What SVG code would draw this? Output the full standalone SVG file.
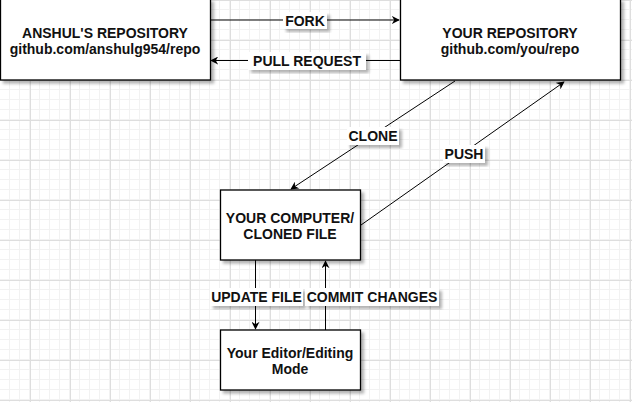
<svg xmlns="http://www.w3.org/2000/svg" width="632" height="402" viewBox="0 0 632 402">
<defs>
<pattern id="minor" width="10" height="10" patternUnits="userSpaceOnUse">
<path d="M9.5 0V10M0 9.5H10" fill="none" stroke="#f2f2f2" stroke-width="1"/>
</pattern>
<pattern id="major" x="30" y="0" width="40" height="40" patternUnits="userSpaceOnUse">
<path d="M0.5 0V40M0 0.5H40" fill="none" stroke="#dedede" stroke-width="1"/>
</pattern>
<filter id="sh" x="-10%" y="-10%" width="130%" height="130%">
<feGaussianBlur in="SourceAlpha" stdDeviation="1.5"/>
<feOffset dx="3" dy="3" result="b"/>
<feComponentTransfer><feFuncA type="linear" slope="0.3"/></feComponentTransfer>
<feMerge><feMergeNode/><feMergeNode in="SourceGraphic"/></feMerge>
</filter>
<marker id="arr" viewBox="0 0 10 10" refX="9" refY="5" markerWidth="8" markerHeight="8" markerUnits="userSpaceOnUse" orient="auto">
<path d="M0 0L10 5L0 10L3 5Z" fill="#000"/>
</marker>
<style>
.box{fill:#fff;stroke:#000;stroke-width:1.3;filter:url(#sh)}
.t{font-family:"Liberation Sans",Arial,sans-serif;font-weight:bold;font-size:14px;fill:#111;text-anchor:middle}
.c{fill:none;stroke:#000;stroke-width:1;marker-end:url(#arr)}
.lb{fill:#fff;filter:url(#sh)}
</style>
</defs>
<rect width="632" height="402" fill="#fff"/>
<rect width="632" height="402" fill="url(#minor)"/>
<rect width="632" height="402" fill="url(#major)"/>

<g id="connectors">
<path class="c" d="M210 20H399"/>
<path class="c" d="M400 60.5H211"/>
<path class="c" d="M455 81L291 189"/>
<path class="c" d="M361 225L564 82"/>
<path class="c" d="M255.5 260V329"/>
<path class="c" d="M325.5 330V261"/>
<g id="labels">
<rect class="lb" x="283" y="12" width="44" height="17"/>
<text class="t" x="305" y="26">FORK</text>
<rect class="lb" x="248" y="52" width="118" height="18"/>
<text class="t" x="307" y="66">PULL REQUEST</text>
<rect class="lb" x="347" y="127" width="52" height="18"/>
<text class="t" x="373" y="141">CLONE</text>
<rect class="lb" x="443" y="145" width="42" height="18"/>
<text class="t" x="464" y="159">PUSH</text>
<rect class="lb" x="210" y="288" width="93" height="18"/>
<text class="t" x="256.5" y="302">UPDATE FILE</text>
<rect class="lb" x="305" y="288" width="134" height="18"/>
<text class="t" x="372" y="302">COMMIT CHANGES</text>
</g>
</g>

<g id="anshul">
<rect class="box" x="0.5" y="-1" width="210" height="81"/>
<text class="t" x="105" y="38">ANSHUL'S REPOSITORY</text>
<text class="t" x="105" y="54">github.com/anshulg954/repo</text>
</g>
<g id="yours">
<rect class="box" x="400.5" y="-1" width="220" height="81"/>
<text class="t" x="510" y="38">YOUR REPOSITORY</text>
<text class="t" x="510" y="54">github.com/you/repo</text>
</g>
<g id="computer">
<rect class="box" x="220.5" y="190" width="140" height="70"/>
<text class="t" x="290" y="223">YOUR COMPUTER/</text>
<text class="t" x="290" y="239">CLONED FILE</text>
</g>
<g id="editor">
<rect class="box" x="220.5" y="330" width="140" height="60"/>
<text class="t" x="290" y="358">Your Editor/Editing</text>
<text class="t" x="290" y="374">Mode</text>
</g>
</svg>
